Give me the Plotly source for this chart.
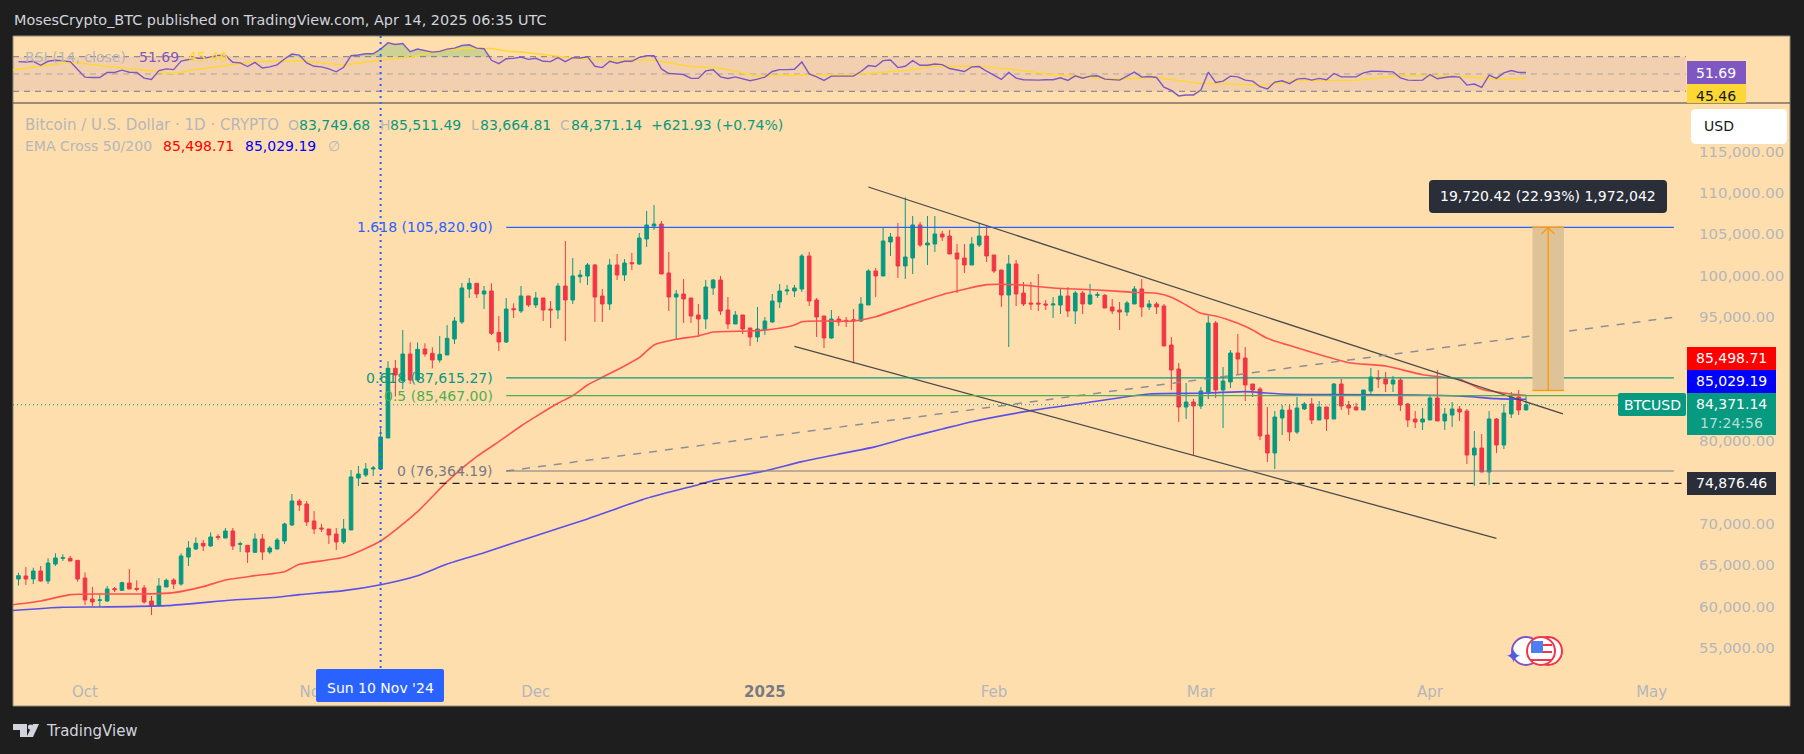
import pandas as pd
import plotly.graph_objects as go

W, H = 1804, 754
FONT = "DejaVu Sans"

# ---- daily candles, 22 Sep 2024 .. 14 Apr 2025
opens = [
    63310, 63673, 63310, 64277, 63069, 65123, 65808, 65808, 65566,
    63431, 60893, 60732, 60651, 62142, 61940, 62827, 62182, 62222, 60651, 60087, 62343, 63189, 62706, 65969, 66936,
    67621, 67299, 68427, 68266, 69112, 67500, 67380, 66533, 68145, 66574, 66936, 67903, 69837, 72738, 72376,
    70321, 69475, 69354, 68749, 67782, 69233, 75518, 75881, 76606, 76606, 80354, 88775, 87284, 90507, 87365,
    91112, 90588, 89782, 90386, 92320, 94375, 98364, 99049, 97760, 98122, 93126, 91958, 95987, 95705, 97518,
    96430, 97276, 95946, 95826, 98726, 97034, 99855, 99935, 101265, 97518, 96551, 101265, 100056, 101547, 101386,
    104407, 105979, 106220, 100298, 97397, 97760, 97276, 95221, 94738, 98485, 99452, 95826, 94133, 95221, 93650, 92562,
    93408, 94375, 96793, 98122, 98122, 98364, 102353, 97034, 95100, 92441, 94738, 94577, 94657, 94496, 96430,
    100540, 99935, 104045, 104649, 101144, 102111, 106100, 103682, 103803, 105012, 104770, 102715, 102111, 101265, 103682, 104770,
    102473, 100660, 97639, 101386, 97880, 96672, 96672, 96551, 96430, 96430, 97518, 95705, 97880, 96551, 97598,
    97598, 96188, 95826, 95584, 96551, 98364, 96188, 96551, 96309, 91595, 88694, 84100, 84704,
    84221, 85913, 94253, 86155, 87122, 90627, 90023, 86880, 86276, 80716, 78540, 82770, 83737, 81078, 83858,
    84463, 82529, 84100, 82649, 86880, 84342, 84100, 83737, 86034, 87645, 87484, 86880, 87363, 84463, 82649, 82287,
    82529, 85188, 82408, 83133, 83858, 83616, 78298, 79144, 76243, 82649, 79507, 83254, 85309, 83749.68,
]
highs = [
    64076, 64761, 64680, 64882, 65808, 66413, 66292, 66090, 65566,
    64116, 62343, 61457, 62464, 62343, 62988, 64519, 63149, 62585, 61255, 63431, 63351, 63391, 66413, 67903, 68347,
    68024, 68951, 68749, 69475, 69475, 67823, 67380, 68830, 68749, 67299, 68266, 70119, 73584, 72980, 72738,
    71529, 69958, 69354, 69475, 70562, 76485, 76969, 77331, 76969, 81521, 89621, 89782, 93408, 91917, 91917,
    91797, 91313, 92683, 94013, 94980, 99089, 99693, 99049, 98726, 99049, 95100, 97276, 96631, 98726, 97518,
    98001, 97276, 96913, 99089, 104166, 102111, 100660, 101506, 101386, 98364, 101990, 102594, 101990, 102715, 105133,
    107792, 108517, 106583, 102836, 98243, 99573, 97276, 96551, 99452, 99573, 99935, 97397, 95705, 95221, 93650, 96188,
    94980, 97760, 98968, 98847, 98847, 102594, 102836, 97276, 95100, 95826, 95100, 94980, 95946, 97397, 100741,
    100902, 105818, 105133, 106341, 109444, 107187, 106462, 107187, 107187, 105374, 105495, 103803, 103803, 104649, 106341, 105979,
    102473, 100660, 102473, 101869, 99210, 99210, 100177, 97034, 97397, 98485, 98606, 98122, 98122, 98968, 98001,
    97760, 97155, 96793, 96913, 98726, 99573, 97034, 96793, 96551, 92562, 89419, 87001, 85067,
    86517, 95099, 94495, 88935, 90989, 92923, 91352, 86880, 86517, 84100, 83616, 84342, 84342, 85309, 84704,
    85188, 84825, 84100, 87001, 87484, 84825, 84583, 86155, 88814, 88572, 88330, 87847, 87605, 84583, 83616, 83979,
    85429, 88572, 83979, 84704, 84221, 83858, 81199, 80836, 83616, 82770, 84463, 85913, 86155, 85511.49,
]
lows = [
    62504, 62585, 62706, 62988, 62706, 64882, 65486, 65446, 62988,
    60168, 60047, 59926, 60530, 61739, 61860, 62061, 61820, 60329, 58959, 60087, 62343, 62102, 62504, 64882, 66815,
    66695, 67218, 68024, 68226, 66815, 66574, 65244, 66453, 65607, 66332, 66896, 67541, 69716, 71529, 69716,
    68749, 68991, 67541, 66815, 67541, 69233, 74551, 75639, 75760, 76606, 80354, 85350, 86277, 86881, 87163,
    90185, 88775, 89460, 90386, 91716, 94133, 97276, 97276, 95946, 92804, 90870, 91837, 94859, 95463, 96188,
    96067, 94496, 93650, 94738, 92079, 96551, 99089, 98847, 94375, 94375, 95826, 99452, 99331, 100660, 101265,
    103440, 105495, 100177, 95705, 92320, 94254, 94254, 92562, 93529, 97639, 95221, 93529, 94133, 92925, 91474, 91958,
    92804, 94254, 96067, 97639, 97397, 98001, 96309, 92562, 91233, 92320, 93892, 93771, 89379, 94375, 96430,
    97397, 99935, 102353, 99693, 99573, 100177, 103440, 101265, 102836, 104166, 102594, 97880, 100298, 101265, 103440, 101627,
    100298, 96188, 91353, 96309, 96309, 95826, 95705, 95826, 94859, 95342, 94980, 94133, 95342, 96430, 97276,
    96067, 95342, 93408, 95100, 96551, 94980, 95826, 95342, 91474, 86156, 82288, 82649, 78177,
    83858, 85067, 85188, 81562, 86396, 87968, 84825, 85309, 80111, 77452, 76606, 80716, 79990, 80836, 83737,
    82045, 82529, 81199, 82649, 83737, 83133, 83737, 83737, 85550, 86396, 85913, 85913, 83616, 81683, 81562, 81320,
    82529, 82408, 81320, 81683, 82408, 77210, 74551, 76243, 74672, 78540, 79023, 82770, 83133, 83664.81,
]
closes = [
    63713, 63310, 64277, 63069, 65244, 65849, 65889, 65486, 63310,
    60772, 60530, 60772, 62102, 62021, 62867, 62102, 62061, 60530, 60087, 62464, 63149, 62706, 66090, 67057, 67621,
    67299, 68387, 68347, 69112, 67299, 67581, 66574, 68145, 66574, 67057, 68024, 69958, 72738, 72255, 70200,
    69354, 69354, 68629, 67782, 69354, 75639, 76002, 76606, 76727, 80474, 88775, 87969, 90507, 87365, 91071,
    90507, 89782, 90467, 92401, 94496, 98485, 99049, 97760, 98122, 93005, 91958, 95946, 95866, 97518, 96430,
    97276, 95826, 95826, 98726, 97034, 99935, 100056, 101265, 97397, 96551, 101265, 100056, 101506, 101426, 104528,
    106100, 106220, 100177, 97397, 97760, 97155, 95100, 94738, 98606, 99452, 95705, 94133, 95221, 93529, 92562, 93529,
    94496, 96913, 98122, 98243, 98485, 102353, 96913, 94980, 92441, 94738, 94375, 94415, 94496, 96551, 100540,
    99935, 104166, 104649, 101144, 102232, 106100, 103682, 103924, 105012, 104649, 102594, 101990, 101265, 103803, 104770, 102353,
    100540, 97639, 101386, 97760, 96551, 96551, 96551, 96430, 96551, 97518, 95705, 97880, 96551, 97639, 97679,
    96067, 95705, 95584, 96672, 98364, 96188, 96551, 96188, 91474, 88573, 84101, 84704, 84221,
    86034, 94253, 86155, 87243, 90627, 89902, 86759, 86155, 80595, 78540, 82891, 83737, 81078, 83979, 84463,
    82529, 84100, 82649, 86880, 84221, 83979, 83737, 86155, 87726, 87484, 86880, 87363, 84342, 82529, 82287, 82649,
    85188, 82408, 83254, 83858, 83496, 78298, 79144, 76243, 82649, 79507, 83375, 85309, 83737, 84371.14,
]
dates = pd.date_range("2024-09-22", periods=len(closes), freq="D")

# EMA 50 / EMA 200, read at the line's bends
ema50_dates = ["2024-09-21", "2024-09-25", "2024-09-29", "2024-10-03", "2024-10-09", "2024-10-13", "2024-10-17", "2024-10-20",
               "2024-10-24", "2024-10-28", "2024-10-30", "2024-11-05", "2024-11-10", "2024-11-15", "2024-11-19", "2024-11-23",
               "2024-11-26", "2024-11-29", "2024-12-01", "2024-12-04", "2024-12-06", "2024-12-08", "2024-12-10", "2024-12-13",
               "2024-12-15", "2024-12-17", "2024-12-20", "2024-12-23", "2024-12-25", "2024-12-30", "2025-01-02", "2025-01-05",
               "2025-01-06", "2025-01-09", "2025-01-13", "2025-01-16", "2025-01-20", "2025-01-25", "2025-01-28", "2025-01-31",
               "2025-02-04", "2025-02-09", "2025-02-15", "2025-02-20", "2025-02-23", "2025-02-25", "2025-02-27", "2025-03-01",
               "2025-03-03", "2025-03-06", "2025-03-08", "2025-03-10", "2025-03-14", "2025-03-18", "2025-03-21", "2025-03-26",
               "2025-03-31", "2025-04-05", "2025-04-08", "2025-04-12", "2025-04-14"]
ema50_values = [60168, 60651, 61417, 61497, 61497, 61658, 62384, 63190,
                63713, 64196, 65083, 65929, 67903, 71449, 75075, 78098,
                79911, 81805, 82933, 84544, 85470, 86760, 87687, 89057,
                90064, 91595, 92280, 92683, 93166, 93287, 93488, 94013,
                94415, 94496, 94496, 95020, 96229, 97679, 98324, 98888,
                98888, 98485, 98243, 97961, 97840, 97356, 96430, 95423,
                95099, 94213, 93407, 92400, 91272, 90184, 89458, 89055,
                88008, 87444, 86235, 85671, 85498.71]
ema200_dates = ["2024-09-21", "2024-09-28", "2024-10-03", "2024-10-12", "2024-10-21", "2024-10-27", "2024-10-30", "2024-11-05",
                "2024-11-10", "2024-11-15", "2024-11-19", "2024-11-24", "2024-12-01", "2024-12-08", "2024-12-16", "2024-12-23",
                "2024-12-25", "2025-01-01", "2025-01-06", "2025-01-12", "2025-01-16", "2025-01-20", "2025-01-25", "2025-01-29",
                "2025-02-06", "2025-02-13", "2025-02-22", "2025-03-01", "2025-03-07", "2025-03-12", "2025-03-19", "2025-03-30",
                "2025-04-05", "2025-04-10", "2025-04-14"]
ema200_values = [59483, 59885, 59926, 60087, 60772, 61094, 61417, 61900,
                 62625, 63713, 65123, 66493, 68548, 70562, 73060, 74712,
                 75200, 76365, 77494, 78581, 79307, 80314, 81442, 82328,
                 83658, 84544, 85672, 85753, 85953, 85671, 85590, 85550,
                 85429, 85107, 85029.19]

# RSI (14) daily, same dates as the candles
rsi_values = [
    64.3, 63.9, 64.7, 60.1, 64.7, 65.8, 65.0, 64.3, 55.1,
    46.4, 46.0, 46.0, 51.7, 51.7, 54.4, 52.1, 51.7, 45.2, 43.7, 54.0, 55.9, 55.1, 65.0, 66.9, 68.5,
    68.1, 69.6, 71.5, 71.5, 63.5, 62.8, 58.6, 63.5, 57.0, 58.2, 60.5, 67.3, 73.0, 71.9, 62.8,
    58.9, 58.2, 55.9, 52.5, 57.8, 71.1, 71.9, 73.4, 73.4, 78.8, 86.0, 84.1, 85.2, 75.7, 78.8,
    77.2, 75.3, 76.1, 78.8, 79.9, 82.9, 83.7, 79.9, 79.2, 65.8, 62.0, 67.7, 68.1, 69.6, 66.9,
    68.1, 64.7, 64.3, 68.9, 64.3, 68.9, 68.5, 70.0, 58.9, 57.4, 64.7, 62.4, 64.7, 64.7, 69.2,
    71.1, 71.1, 55.9, 50.6, 50.2, 49.4, 44.9, 44.9, 53.6, 54.8, 46.7, 44.9, 46.7, 44.1, 42.2, 44.1,
    46.4, 52.9, 55.1, 55.1, 55.5, 63.9, 50.2, 46.7, 42.6, 47.5, 47.5, 47.1, 47.5, 52.9, 59.7,
    58.6, 65.4, 66.2, 57.4, 58.9, 65.4, 60.1, 60.1, 61.6, 60.8, 56.3, 54.4, 52.9, 58.2, 58.6, 53.2,
    48.7, 43.7, 51.7, 45.2, 43.3, 42.9, 42.9, 43.3, 43.3, 45.6, 42.6, 47.9, 45.2, 47.5, 47.9,
    44.1, 43.3, 42.9, 47.5, 52.1, 46.4, 47.1, 46.0, 34.9, 31.1, 24.7, 25.8, 25.8,
    31.5, 52.1, 40.3, 41.8, 47.5, 46.7, 42.9, 41.8, 35.3, 32.7, 40.7, 42.2, 38.8, 44.1, 44.9,
    42.9, 44.9, 43.3, 50.6, 46.7, 46.7, 46.7, 51.3, 53.2, 53.2, 52.5, 52.5, 45.6, 42.9, 42.6, 42.9,
    49.4, 44.5, 46.0, 47.1, 46.4, 37.2, 38.4, 34.6, 48.7, 44.9, 51.3, 54.0, 51.7, 51.69,
]
rsi_ma_dates = ["2024-09-21", "2024-09-29", "2024-10-05", "2024-10-09", "2024-10-13", "2024-10-16", "2024-10-20", "2024-10-24",
                "2024-10-30", "2024-11-04", "2024-11-05", "2024-11-10", "2024-11-14", "2024-11-17", "2024-11-21", "2024-11-25",
                "2024-11-27", "2024-11-29", "2024-12-04", "2024-12-09", "2024-12-17", "2024-12-22", "2024-12-26", "2024-12-31",
                "2025-01-04", "2025-01-13", "2025-01-18", "2025-01-20", "2025-01-24", "2025-01-30", "2025-02-03", "2025-02-07",
                "2025-02-08", "2025-02-12", "2025-02-17", "2025-02-23", "2025-02-24", "2025-03-01", "2025-03-07", "2025-03-09",
                "2025-03-14", "2025-03-22", "2025-03-28", "2025-04-06", "2025-04-10", "2025-04-14"]
rsi_ma_values = [54.4, 63.5, 58.2, 54.0, 50.6, 55.1, 59.7, 64.3,
                 65.4, 61.2, 60.5, 65.8, 69.2, 75.3, 79.5, 79.5,
                 76.5, 75.3, 70.4, 66.6, 65.8, 58.6, 56.7, 47.5,
                 48.7, 49.4, 53.2, 54.0, 58.9, 58.9, 55.9, 51.3,
                 50.2, 47.1, 44.1, 46.0, 44.9, 39.1, 38.0, 36.8,
                 42.6, 42.9, 48.3, 47.1, 43.7, 45.46]

# drawings on the chart
fib_levels = [105820.90, 87615.27, 85467.00, 76364.19]
fib_names = ["1.618 (105,820.90)", "0.618 (87,615.27)", "0.5 (85,467.00)", "0 (76,364.19)"]
fib_colors = ["#2962ff", "#089981", "#4caf50", "#787b86"]
fib_start, fib_end = "2024-11-27", "2025-05-04"
fib_mid_end = 94950
upper_channel = (["2025-01-15", "2025-04-19"], [110692, 83257])
lower_channel = (["2025-01-05", "2025-04-10"], [91437, 68229])
low_level = 74876.46
low_start = "2024-11-07 10:00"
position_left, position_right = "2025-04-14 21:00", "2025-04-19 03:00"
position_mid = "2025-04-17"
position_entry, position_target = 86100.48, 105820.90
crosshair_date = "2024-11-10"
last_price = 84371.14

# 75k, 85k and 90k sit behind the coloured price labels in the original
price_ticks = [55000, 60000, 65000, 70000, 80000, 95000, 100000, 105000, 110000, 115000]
time_ticks = ["2024-10-01", "2024-11-01", "2024-12-01", "2025-01-01", "2025-02-01", "2025-03-01", "2025-04-01", "2025-05-01"]
time_labels = ["Oct", "Nov", "Dec", "<span style='color:#787b86'><b>2025</b></span>", "Feb", "Mar", "Apr", "May"]


def px(x):
    return x / W


def py(y):
    return 1 - y / H


def poly(pts, fill, line=None, lw=0):
    d = "M " + " L ".join(f"{px(x):.5f},{py(y):.5f}" for x, y in pts) + " Z"
    return dict(type="path", xref="paper", yref="paper", path=d, fillcolor=fill, line=dict(color=line or fill, width=lw), layer="above")


def round_box(x0, y0, x1, y1, fill, r=3):
    c = [(x0 + r, y0), (x1 - r, y0), (x1, y0 + r), (x1, y1 - r), (x1 - r, y1), (x0 + r, y1), (x0, y1 - r), (x0, y0 + r)]
    p = [f"{px(a):.5f},{py(b):.5f}" for a, b in c]
    q = [f"{px(a):.5f},{py(b):.5f}" for a, b in [(x1, y0), (x1, y1), (x0, y1), (x0, y0)]]
    d = f"M {p[0]} L {p[1]} Q {q[0]} {p[2]} L {p[3]} Q {q[1]} {p[4]} L {p[5]} Q {q[2]} {p[6]} L {p[7]} Q {q[3]} {p[0]} Z"
    return dict(type="path", xref="paper", yref="paper", path=d, fillcolor=fill, line=dict(width=0), layer="above")


def pbox(x0, y0, x1, y1, fill, line=None, lw=0, layer="above"):
    return dict(type="rect", xref="paper", yref="paper", x0=px(x0), x1=px(x1), y0=py(y0), y1=py(y1),
                fillcolor=fill, line=dict(color=line or fill, width=lw), layer=layer)


def pcircle(cx, cy, r, fill, line, lw=2):
    return dict(type="circle", xref="paper", yref="paper", x0=px(cx - r), x1=px(cx + r), y0=py(cy - r), y1=py(cy + r),
                fillcolor=fill, line=dict(color=line, width=lw), layer="above")


def label(x, y, text, color, size=14, anchor="left", family=FONT):
    return dict(xref="paper", yref="paper", x=px(x), y=py(y), text=text, showarrow=False, xanchor=anchor, yanchor="middle",
                font=dict(family=family, size=size, color=color), borderpad=0)


fig = go.Figure()

# RSI pane
rsi_hi = [max(v, 70) for v in rsi_values]
fig.add_trace(go.Scatter(x=dates, y=[70] * len(dates), xaxis="x2", yaxis="y2", mode="lines", line=dict(width=0), hoverinfo="skip"))
fig.add_trace(go.Scatter(x=dates, y=rsi_hi, xaxis="x2", yaxis="y2", mode="lines", line=dict(width=0), fill="tonexty",
                         fillcolor="rgba(76,175,80,0.28)", hoverinfo="skip"))
fig.add_trace(go.Scatter(x=rsi_ma_dates, y=rsi_ma_values, xaxis="x2", yaxis="y2", mode="lines", line=dict(color="#fdd835", width=1.5)))
fig.add_trace(go.Scatter(x=dates, y=rsi_values, xaxis="x2", yaxis="y2", mode="lines", line=dict(color="#7e57c2", width=1.4)))

# price pane
fig.add_trace(go.Scatter(x=ema50_dates, y=ema50_values, mode="lines", line=dict(color="#ff5050", width=1.6, shape="spline", smoothing=0.6)))
fig.add_trace(go.Scatter(x=ema200_dates, y=ema200_values, mode="lines", line=dict(color="#5b50e8", width=1.6, shape="spline", smoothing=0.6)))
fig.add_trace(go.Candlestick(x=dates, open=opens, high=highs, low=lows, close=closes,
                             increasing=dict(line=dict(color="#089981", width=1), fillcolor="#089981"),
                             decreasing=dict(line=dict(color="#f23645", width=1), fillcolor="#f23645"),
                             whiskerwidth=0))
for xs, ys in [upper_channel, lower_channel]:
    fig.add_trace(go.Scatter(x=xs, y=ys, mode="lines", line=dict(color="#4a4a4a", width=1.3)))
fig.add_trace(go.Scatter(x=[fib_start, fib_end], y=[fib_levels[3], fib_mid_end], mode="lines",
                         line=dict(color="#8d8f98", width=1.5, dash="8px,8px")))

shapes = [pbox(13, 36, 1790, 706, "#ffdead", "#8f8a78", 1, layer="below")]
# rsi band and its levels
shapes.append(dict(type="rect", xref="paper", yref="y2", x0=px(13), x1=px(1686), y0=30, y1=70, fillcolor="rgba(126,87,194,0.10)", line=dict(width=0), layer="below"))
for lvl, col in [(70, "#787b86"), (50, "#a9a7a0"), (30, "#787b86")]:
    shapes.append(dict(type="line", xref="paper", yref="y2", x0=px(13), x1=px(1686), y0=lvl, y1=lvl, line=dict(color=col, width=1, dash="6px,5px"), layer="below"))
shapes.append(dict(type="line", xref="paper", yref="paper", x0=px(13), x1=px(1790), y0=py(103), y1=py(103), line=dict(color="#363a45", width=1.2), layer="above"))
# fib levels
for lvl, col in zip(fib_levels, fib_colors):
    shapes.append(dict(type="line", xref="x", yref="y", x0=fib_start, x1=fib_end, y0=lvl, y1=lvl, line=dict(color=col, width=1.2), layer="above"))
# low level and last price
shapes.append(dict(type="line", xref="x", yref="y", x0=low_start, x1=dates[-1] + pd.Timedelta(days=21.6), y0=low_level, y1=low_level,
                   line=dict(color="#1e222d", width=1.2, dash="7px,6px"), layer="above"))
shapes.append(dict(type="line", xref="paper", yref="y", x0=px(13), x1=px(1618), y0=last_price, y1=last_price,
                   line=dict(color="#089981", width=1, dash="1px,3px"), layer="above"))
# position tool
shapes.append(dict(type="rect", xref="x", yref="y", x0=position_left, x1=position_right, y0=position_entry, y1=position_target,
                   fillcolor="#dec298", line=dict(width=0), layer="above"))
for lvl in [position_entry, position_target]:
    shapes.append(dict(type="line", xref="x", yref="y", x0=position_left, x1=position_right, y0=lvl, y1=lvl, line=dict(color="#ff9800", width=1.3), layer="above"))
shapes.append(dict(type="line", xref="x", yref="y", x0=position_mid, x1=position_mid, y0=position_entry, y1=position_target, line=dict(color="#ff9800", width=1.3), layer="above"))
shapes.append(dict(type="path", xref="paper", yref="paper", layer="above", line=dict(color="#ff9800", width=1.2),
                   path=f"M {px(1541.5)},{py(234)} L {px(1548)},{py(227.5)} L {px(1554.5)},{py(234)}"))
# crosshair
shapes.append(dict(type="line", xref="x", yref="paper", x0=crosshair_date, x1=crosshair_date, y0=py(36), y1=py(669),
                   line=dict(color="#2962ff", width=2, dash="2px,4px"), layer="above"))
# label boxes on the scales
shapes += [
    round_box(1429, 180, 1667, 213, "#2a2e39", 4),
    pbox(1687, 61, 1746, 84, "#7e57c2"),
    pbox(1687, 84, 1746, 103, "#fdd835"),
    round_box(1691, 109, 1787, 144, "#ffffff", 5),
    pbox(1687, 347, 1776, 370, "#ff0000"),
    pbox(1687, 370, 1776, 393, "#0000ff"),
    pbox(1687, 393, 1776, 435, "#089981"),
    round_box(1618, 393, 1686, 416, "#089981", 2),
    pbox(1687, 472, 1776, 495, "#2a2e39"),
    round_box(316, 669, 444, 702, "#2962ff", 2),
]
# event markers
shapes += [
    pcircle(1526, 651, 14, "#ffffff", "#7e57c2"),
    pcircle(1548, 651, 14, "#ffffff", "#f23645"),
    pcircle(1541, 651, 14, "#ffffff", "#f23645"),
    pbox(1531, 641, 1543, 653, "#4d7ff0"),
    pbox(1543, 644, 1552, 646, "#f23645"),
    pbox(1543, 651, 1552, 653, "#f23645"),
    pbox(1530, 659, 1551, 661, "#f23645"),
]
# TradingView logo
shapes += [
    poly([(13, 724), (27, 724), (27, 737), (20, 737), (20, 730), (13, 730)], "#d1d4dc"),
    pcircle(30.5, 727, 2.6, "#d1d4dc", "#d1d4dc", 0),
    poly([(33, 724), (39, 724), (33, 737), (26.5, 737)], "#d1d4dc"),
]

faded = "#b4b6bb"
teal = "#089981"
annotations = [
    label(13, 20, "MosesCrypto_BTC published on TradingView.com, Apr 14, 2025 06:35 UTC", "#d1d4dc", 14.4),
    label(24, 57, "RSI (14, close)", faded, 14),
    label(138, 57, "51.69", "#7e57c2", 14),
    label(187, 57, "45.46", "#fdd835", 14),
    label(24, 125, "Bitcoin / U.S. Dollar · 1D · CRYPTO", faded, 15),
    label(287, 125, "O", faded, 14),
    label(298, 125, "83,749.68", teal, 14),
    label(379, 125, "H", faded, 14),
    label(389, 125, "85,511.49", teal, 14),
    label(470, 125, "L", faded, 14),
    label(479, 125, "83,664.81", teal, 14),
    label(559, 125, "C", faded, 14),
    label(570, 125, "84,371.14", teal, 14),
    label(650, 125, "+621.93 (+0.74%)", teal, 14),
    label(24, 146, "EMA Cross 50/200", faded, 14),
    label(162, 146, "85,498.71", "#ff0000", 14),
    label(244, 146, "85,029.19", "#0000ff", 14),
    label(327, 146, "∅", faded, 14),
    label(1548, 196.5, "19,720.42 (22.93%) 1,972,042", "#ffffff", 14, "center"),
    label(1716, 73, "51.69", "#ffffff", 14, "center"),
    label(1716, 96, "45.46", "#131722", 14, "center"),
    label(1703, 126.5, "USD", "#131722", 14),
    label(1731, 358, "85,498.71", "#ffffff", 14, "center"),
    label(1731, 381, "85,029.19", "#ffffff", 14, "center"),
    label(1731, 404, "84,371.14", "#ffffff", 14, "center"),
    label(1731, 423, "17:24:56", "#b5dfd5", 14, "center"),
    label(1652, 405, "BTCUSD", "#ffffff", 14, "center"),
    label(1731, 483, "74,876.46", "#ffffff", 14, "center"),
    label(380, 688, "Sun 10 Nov '24", "#ffffff", 14, "center"),
    label(45, 731, "TradingView", "#d1d4dc", 15),
    label(1513, 656, "✦", "#4f5be0", 20, "center"),
]
for lvl, txt, col in zip(fib_levels, fib_names, fib_colors):
    annotations.append(dict(xref="paper", yref="y", x=px(494), y=lvl, text=txt, showarrow=False, xanchor="right", yanchor="middle",
                            font=dict(family=FONT, size=14, color=col), borderpad=0))

x_left = pd.Timestamp("2024-10-01") - pd.Timedelta(days=72 / 7.39)
x_right = pd.Timestamp("2024-10-01") + pd.Timedelta(days=1601 / 7.39)

fig.update_layout(
    width=W, height=H, margin=dict(l=0, r=0, t=0, b=0, pad=0),
    paper_bgcolor="#1e1e1e", plot_bgcolor="rgba(0,0,0,0)",
    showlegend=False, dragmode=False, boxgap=0.3,
    font=dict(family=FONT, size=14, color=faded),
    shapes=shapes, annotations=annotations,
    xaxis=dict(domain=[px(13), px(1686)], range=[x_left, x_right], type="date", rangeslider=dict(visible=False),
               showgrid=False, zeroline=False, showline=False, tickmode="array", tickvals=time_ticks, ticktext=time_labels,
               ticks="outside", ticklen=8, tickcolor="rgba(0,0,0,0)", tickfont=dict(family=FONT, size=15, color=faded), anchor="y"),
    yaxis=dict(domain=[py(670), py(103)], range=[52309, 120846], side="right", showgrid=False, zeroline=False, showline=False,
               tickmode="array", tickvals=price_ticks, tickformat=",.2f", ticks="outside", ticklen=9, tickcolor="rgba(0,0,0,0)",
               tickfont=dict(family=FONT, size=14.9, color=faded), anchor="x"),
    xaxis2=dict(domain=[px(13), px(1686)], range=[x_left, x_right], type="date", showgrid=False, zeroline=False, showticklabels=False,
                ticks="", anchor="y2"),
    yaxis2=dict(domain=[py(103), py(36)], range=[16.5, 93.9], showgrid=False, zeroline=False, showticklabels=False, ticks="", anchor="x2"),
)

assert len(opens) == len(highs) == len(lows) == len(closes) == len(rsi_values) == 205

fig.write_html("out.html", config=dict(displayModeBar=False),
               post_script="document.body.style.margin='0';document.body.style.overflow='hidden';")
